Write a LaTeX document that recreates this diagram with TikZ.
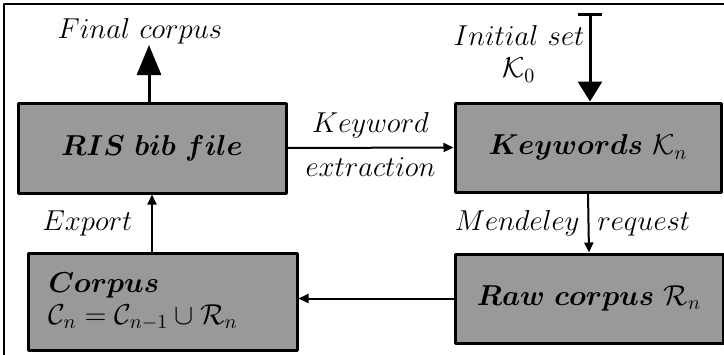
\documentclass[tikz,border=0pt]{standalone}
\usepackage{amsmath}
\usepackage{amssymb}
\usepackage{bm}
\usepackage{tikz}
\usetikzlibrary{calc}
\usetikzlibrary{arrows,arrows.meta}
\definecolor{boxgray}{rgb}{0.6,0.6,0.6}
\tikzstyle{every node}=[font=\Large]
\tikzstyle{stepbox}=[draw,line width=1.5pt,fill=boxgray,inner sep=0pt]
\tikzstyle{bigarrow}=[line width=1.5pt,-{Triangle[length=15pt,width=12pt]}]
\tikzstyle{smallarrow}=[line width=1pt,-{Triangle[length=5pt,width=4.5pt]}]

\begin{document}
\begin{tikzpicture}[line cap=round,line join=round,x=0.5pt,y=0.5pt]
            \clip(0,0) rectangle (724,-354);
            \draw [line width=1pt] (4,-4) rectangle (760,-380);
            \node [stepbox,minimum width=134pt,minimum height=45pt] (ris) at (152,-148) {$\boldsymbol{RIS\ bib\ file}$};
            \node [stepbox,minimum width=133pt,minimum height=44.5pt] (kw) at (588,-147.5) {$\boldsymbol{Keywords}\ \mathcal{K}_n$};
            \node [stepbox,minimum width=134.5pt,minimum height=48.5pt,text width=114pt,align=left] (corp) at (162.5,-301.5) {$\boldsymbol{Corpus}$\\[-2pt]$\mathcal{C}_n=\mathcal{C}_{n-1}\cup\mathcal{R}_n$};
            \node [stepbox,minimum width=134pt,minimum height=44.5pt] (raw) at (589,-298.5) {$\boldsymbol{Raw\ corpus}\ \mathcal{R}_n$};
            \node (final) at (140,-31) {$Final\ corpus$};
            \node [align=center] (init) at (519,-54) {$Initial\ set$\\[-2pt]$\mathcal{K}_0$};
            \coordinate (fc) at (149,-45);
            \coordinate (is) at (590,-13);
            \draw [bigarrow] (ris.north -| fc) -- (fc);
            \draw [line width=1.5pt,{Bar[width=12pt]}-{Triangle[length=10pt,width=12pt]}] (is) -- (is |- kw.north);
            \draw [smallarrow] (ris.east) -- (kw.west) node [midway,above=1pt] {$Keyword$} node [midway,below=1pt] {$extraction$};
            \draw [smallarrow] (kw.south) -- (raw.north) node [midway,xshift=-8pt] {$Mendeley$\hspace{9pt}$request$};
            \draw [smallarrow] (raw.west) -- (raw.west -| corp.east);
            \draw [smallarrow] (ris.south |- corp.north) -- (ris.south) node [midway,left=6pt] {$Export$};
\end{tikzpicture}
\end{document}
